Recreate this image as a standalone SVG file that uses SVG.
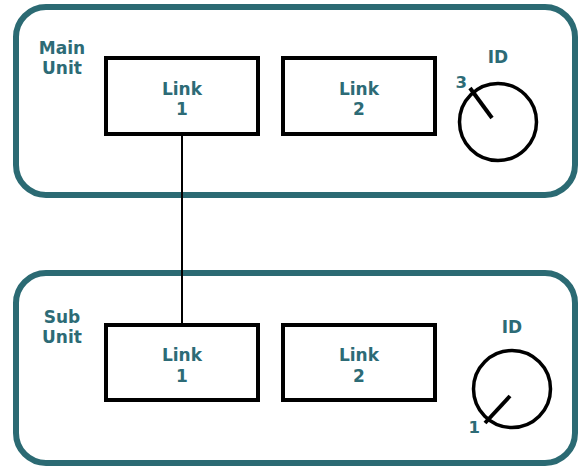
<svg xmlns="http://www.w3.org/2000/svg" width="580" height="467" viewBox="0 0 580 467">
<style>
.unit{fill:#fff;stroke:#2b6a73;stroke-width:6}
.link{fill:#fff;stroke:#000;stroke-width:4}
.knob{fill:none;stroke:#000;stroke-width:3.5}
.ptr{stroke:#000;stroke-width:4}
.t{font-family:"DejaVu Sans",Verdana,sans-serif;font-weight:bold;font-size:17px;fill:#2d6b76;text-anchor:middle}
.n{font-family:"DejaVu Sans",Verdana,sans-serif;font-weight:bold;font-size:16.5px;fill:#2d6b76}
.wire{stroke:#000;stroke-width:2;fill:none}
</style>
<rect width="580" height="467" fill="#fff"/>
<g id="main-unit">
<rect class="unit" x="16" y="7" width="559" height="188" rx="30"/>
<text class="t" x="62" y="54">Main</text>
<text class="t" x="62" y="74">Unit</text>
</g>
<g id="sub-unit">
<rect class="unit" x="16" y="273" width="559" height="190" rx="30"/>
<text class="t" x="62" y="323">Sub</text>
<text class="t" x="62" y="343">Unit</text>
</g>
<g id="main-link1">
<rect class="link" x="106" y="58" width="152" height="76"/>
<text class="t" x="182" y="95">Link</text>
<text class="t" x="182" y="115">1</text>
</g>
<g id="main-link2">
<rect class="link" x="283" y="58" width="152" height="76"/>
<text class="t" x="359" y="95">Link</text>
<text class="t" x="359" y="115">2</text>
</g>
<g id="main-id">
<text class="t" x="498" y="63">ID</text>
<circle class="knob" cx="498" cy="122" r="38.5"/>
<line class="ptr" x1="470" y1="88" x2="492" y2="118"/>
<text class="n" x="467" y="88" text-anchor="end">3</text>
</g>
<g id="sub-link1">
<rect class="link" x="106" y="325" width="152" height="75"/>
<text class="t" x="182" y="361">Link</text>
<text class="t" x="182" y="382">1</text>
</g>
<g id="sub-link2">
<rect class="link" x="283" y="325" width="152" height="75"/>
<text class="t" x="359" y="361">Link</text>
<text class="t" x="359" y="382">2</text>
</g>
<g id="sub-id">
<text class="t" x="512" y="333">ID</text>
<circle class="knob" cx="512" cy="389" r="38.5"/>
<line class="ptr" x1="510" y1="396" x2="485" y2="423"/>
<text class="n" x="480" y="433" text-anchor="end">1</text>
</g>
<g id="connectors">
<line class="wire" x1="182" y1="136" x2="182" y2="323"/>
</g>
</svg>
